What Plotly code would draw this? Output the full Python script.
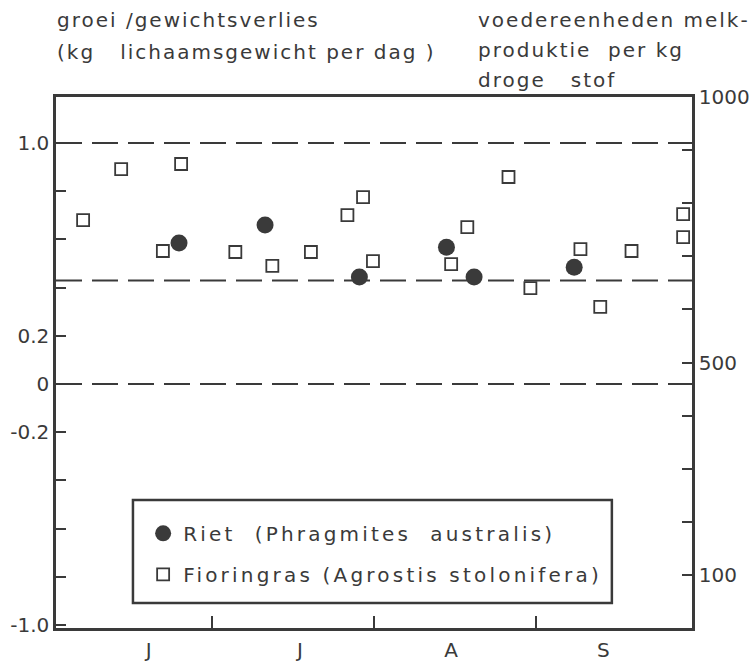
import plotly.graph_objects as go

# ---- data (x = days since 1 June, y = kg body weight per day) ----
riet_day = [23.6, 40.1, 58.2, 74.9, 80.2, 99.4]
riet_val = [0.585, 0.66, 0.444, 0.568, 0.444, 0.485]

fior_day = [5.2, 12.5, 20.5, 24.0, 34.4, 41.5, 48.9, 55.9, 58.9, 60.8,
            75.8, 78.9, 86.8, 91.0, 100.6, 104.4, 110.4, 120.3, 120.3]
fior_val = [0.68, 0.892, 0.552, 0.913, 0.548, 0.49, 0.548, 0.701, 0.776, 0.51,
            0.498, 0.651, 0.859, 0.398, 0.56, 0.32, 0.552, 0.705, 0.61]

ref_levels = [1.0, 0.43, 0.0]

month_starts = [30, 61, 92]
month_label_pos = [17.8, 46.8, 75.8, 105.0]
month_labels = ["J", "J", "A", "S"]

left_tickvals = [-1.0, -0.8, -0.6, -0.4, -0.2, 0.0, 0.2, 0.4, 0.6, 0.8, 1.0]
left_ticktext = ["-1.0", "", "", "", "-0.2", "0", "0.2", "", "", "", "1.0"]
right_tickvals = [0, 100, 200, 300, 400, 500, 600, 700, 800, 900, 1000]
right_ticktext = ["", "100", "", "", "", "500", "", "", "", "", "1000"]

left_title = ["groei /gewichtsverlies",
              "(kg\u00a0\u00a0\u00a0lichaamsgewicht\u00a0per\u00a0dag )"]
right_title = ["voedereenheden\u00a0melk-",
               "produktie\u00a0\u00a0per\u00a0kg",
               "droge\u00a0\u00a0\u00a0stof"]

INK = "#3a3a3a"
FONT = "DejaVu Sans"
FS = 20

fig = go.Figure()
fig.add_trace(go.Scatter(
    x=riet_day, y=riet_val, mode="markers",
    name="Riet\u00a0\u00a0(Phragmites\u00a0\u00a0australis)",
    legendgroup="a",
    marker=dict(symbol="circle", size=17, color=INK, line=dict(width=0)),
))
fig.add_trace(go.Scatter(
    x=fior_day, y=fior_val, mode="markers",
    name="Fioringras\u00a0(Agrostis\u00a0stolonifera)",
    legendgroup="b",
    marker=dict(symbol="square-open", size=12, color=INK, line=dict(width=1.8, color=INK)),
))

for lv in ref_levels:
    fig.add_shape(type="line", xref="paper", x0=0, x1=1, yref="y", y0=lv, y1=lv,
                  line=dict(color=INK, width=2, dash="26px,10px"))

# legend frame
fig.add_shape(type="rect", xref="paper", yref="paper", x0=0.121, x1=0.874, y0=0.047, y1=0.241,
              line=dict(color=INK, width=2.5), fillcolor="white", layer="above")

fig.update_layout(
    width=752, height=666,
    margin=dict(l=56, r=60, t=97, b=38, autoexpand=False),
    paper_bgcolor="white", plot_bgcolor="white",
    font=dict(family=FONT, size=FS, color=INK),
    showlegend=True,
    legend=dict(
        x=0.137, y=0.215, xanchor="left", yanchor="top",
        bgcolor="rgba(0,0,0,0)", borderwidth=0,
        font=dict(family=FONT, size=FS, color=INK),
        traceorder="grouped", tracegroupgap=12,
        itemsizing="trace", itemwidth=30,
    ),
    xaxis=dict(
        range=[0, 122], showgrid=False, zeroline=False, automargin=False,
        showline=True, linecolor=INK, linewidth=2.5, mirror=True,
        tickmode="array", tickvals=month_starts, ticktext=["", "", ""],
        ticks="inside", ticklen=12, tickwidth=1.5, tickcolor=INK,
    ),
    xaxis2=dict(
        range=[0, 122], overlaying="x", anchor="y", side="bottom", automargin=False,
        showgrid=False, zeroline=False, showline=False,
        tickmode="array", tickvals=month_label_pos, ticktext=month_labels,
        ticks="", ticklabelstandoff=8, tickfont=dict(family=FONT, size=FS, color=INK),
    ),
    yaxis=dict(
        range=[-1.012, 1.191], showgrid=False, zeroline=False, automargin=False,
        showline=True, linecolor=INK, linewidth=2.5,
        tickmode="array", tickvals=left_tickvals, ticktext=left_ticktext,
        ticks="inside", ticklen=10, tickwidth=1.5, tickcolor=INK,
        tickfont=dict(family=FONT, size=FS, color=INK),
    ),
    yaxis2=dict(
        range=[0, 1000], overlaying="y", side="right", anchor="x", automargin=False,
        showgrid=False, zeroline=False,
        showline=True, linecolor=INK, linewidth=2.5,
        tickmode="array", tickvals=right_tickvals, ticktext=right_ticktext,
        ticks="inside", ticklen=10, tickwidth=1.5, tickcolor=INK,
        tickfont=dict(family=FONT, size=FS, color=INK),
    ),
)

fig.add_trace(go.Scatter(x=[None], y=[None], xaxis="x2", showlegend=False, hoverinfo="skip"))
fig.add_trace(go.Scatter(x=[None], y=[None], yaxis="y2", showlegend=False, hoverinfo="skip"))

left_y = [1.145, 1.085]
for txt, yy in zip(left_title, left_y):
    fig.add_annotation(text=txt, xref="paper", yref="paper", x=-0.002, y=yy,
                       xanchor="left", yanchor="middle", showarrow=False,
                       font=dict(family=FONT, size=FS, color=INK))
right_y = [1.145, 1.0885, 1.032]
for txt, yy in zip(right_title, right_y):
    fig.add_annotation(text=txt, xref="paper", yref="paper", x=0.660, y=yy,
                       xanchor="left", yanchor="middle", showarrow=False,
                       font=dict(family=FONT, size=FS, color=INK))

post = """
document.body.style.margin = '0';
var gd = document.getElementById('{plot_id}');
gd.querySelectorAll('.legend .scrollbox').forEach(function (s) { s.removeAttribute('clip-path'); });
gd.querySelectorAll('.legend').forEach(function (s) { s.removeAttribute('clip-path'); });
gd.querySelectorAll('.legendtext').forEach(function (t) { t.style.letterSpacing = '3.2px'; });
gd.querySelectorAll('.annotation-text').forEach(function (t) {
  var bb = t.getBBox();
  t.setAttribute('text-anchor', 'start');
  t.setAttribute('x', bb.x);
  t.style.letterSpacing = '2px';
});
"""

fig.write_html("out.html", post_script=post, config={"displayModeBar": False})
